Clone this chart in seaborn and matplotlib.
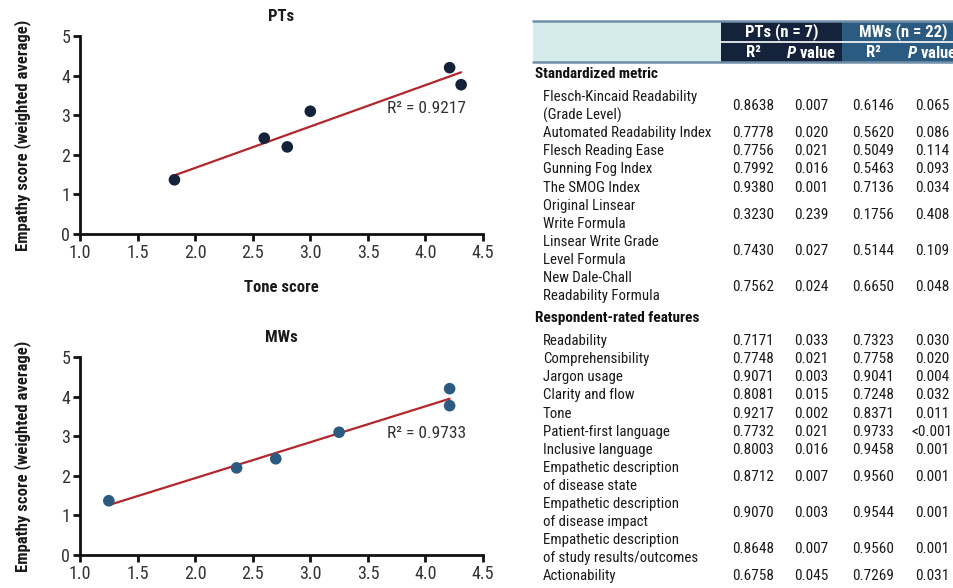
import numpy as np
import pandas as pd
import seaborn as sns
import matplotlib.pyplot as plt
from matplotlib.patches import Rectangle

# ---- scatter data: tone score vs empathy score ----
pt_tone = [1.82, 2.60, 2.80, 3.00, 4.21, 4.31]
pt_empathy = [1.37, 2.42, 2.20, 3.10, 4.20, 3.77]
pt_r2 = "0.9217"

mw_tone = [1.25, 2.36, 2.70, 3.25, 4.21, 4.21]
mw_empathy = [1.37, 2.20, 2.43, 3.10, 4.20, 3.77]
mw_r2 = "0.9733"

x_ticks = [1.0, 1.5, 2.0, 2.5, 3.0, 3.5, 4.0, 4.5]
y_ticks = [0, 1, 2, 3, 4, 5]

# ---- table data ----
sections = ["Standardized metric", "Respondent-rated features"]
std_labels = ["Flesch-Kincaid Readability\n(Grade Level)", "Automated Readability Index",
              "Flesch Reading Ease", "Gunning Fog Index", "The SMOG Index",
              "Original Linsear\nWrite Formula", "Linsear Write Grade\nLevel Formula",
              "New Dale-Chall\nReadability Formula"]
std_r2_pt = ["0.8638", "0.7778", "0.7756", "0.7992", "0.9380", "0.3230", "0.7430", "0.7562"]
std_p_pt = ["0.007", "0.020", "0.021", "0.016", "0.001", "0.239", "0.027", "0.024"]
std_r2_mw = ["0.6146", "0.5620", "0.5049", "0.5463", "0.7136", "0.1756", "0.5144", "0.6650"]
std_p_mw = ["0.065", "0.086", "0.114", "0.093", "0.034", "0.408", "0.109", "0.048"]

resp_labels = ["Readability", "Comprehensibility", "Jargon usage", "Clarity and flow", "Tone",
               "Patient-first language", "Inclusive language",
               "Empathetic description\nof disease state",
               "Empathetic description\nof disease impact",
               "Empathetic description\nof study results/outcomes", "Actionability"]
resp_r2_pt = ["0.7171", "0.7748", "0.9071", "0.8081", "0.9217", "0.7732", "0.8003",
              "0.8712", "0.9070", "0.8648", "0.6758"]
resp_p_pt = ["0.033", "0.021", "0.003", "0.015", "0.002", "0.021", "0.016",
             "0.007", "0.003", "0.007", "0.045"]
resp_r2_mw = ["0.7323", "0.7758", "0.9041", "0.7248", "0.8371", "0.9733", "0.9458",
              "0.9560", "0.9544", "0.9560", "0.7269"]
resp_p_mw = ["0.030", "0.020", "0.004", "0.032", "0.011", "<0.001", "0.001",
             "0.001", "0.001", "0.001", "0.031"]

group_headers = ["PTs (n = 7)", "MWs (n = 22)"]
sub_headers = ["R²", "$\\mathit{P}$ value", "R²", "$\\mathit{P}$ value"]

sns.set_style("ticks")
FONT = ["Roboto Condensed", "DejaVu Sans"]
plt.rcParams["font.family"] = FONT
plt.rcParams["mathtext.fontset"] = "custom"
plt.rcParams["mathtext.rm"] = "Roboto Condensed"
plt.rcParams["mathtext.it"] = "Roboto Condensed:italic:bold"

NAVY = "#14233b"
BLUE = "#2b5b80"
RED = "#b3262c"
TEXT = "#1a1a1a"

fig = plt.figure(figsize=(9.54, 5.88), dpi=100)

# full-figure canvas in pixel units for the table
canvas = fig.add_axes([0, 0, 1, 1], zorder=0)
canvas.set_xlim(0, 954)
canvas.set_ylim(588, 0)
canvas.axis("off")


def scatter_panel(rect, tone, emp, r2, color, title, xlabel, r2_pos):
    ax = fig.add_axes(rect, zorder=2)
    df = pd.DataFrame({"tone": tone, "emp": emp})
    sns.regplot(data=df, x="tone", y="emp", ax=ax, ci=None,
                scatter_kws=dict(s=70, color=color, edgecolor="none", alpha=1, zorder=3),
                line_kws=dict(color=RED, lw=1.6, zorder=2))
    ax.set_xlim(1.0, 4.5)
    ax.set_ylim(0, 5)
    ax.set_xticks(x_ticks)
    ax.set_xticklabels([f"{v:.1f}" for v in x_ticks])
    ax.set_yticks(y_ticks)
    sns.despine(ax=ax)
    for s in ("left", "bottom"):
        ax.spines[s].set_linewidth(2.0)
        ax.spines[s].set_color("#111111")
    ax.tick_params(axis="both", direction="out", length=5, width=2, color="#111111",
                   labelsize=13, labelcolor="#333333", pad=2)
    ax.set_title(title, fontsize=12, fontweight="bold", color=TEXT, pad=11)
    ax.set_xlabel(xlabel, fontsize=12, fontweight="bold", color=TEXT, labelpad=13)
    ax.set_ylabel("Empathy score (weighted average)", fontsize=12, fontweight="bold",
                  color=TEXT, labelpad=22)
    ax.text(r2_pos[0], r2_pos[1], f"R² = {r2}", fontsize=12.5, color="#333333",
            va="center", ha="left")
    return ax


scatter_panel([0.0839, 0.602, 0.4224, 0.3368], pt_tone, pt_empathy, pt_r2, NAVY,
              "PTs", "Tone score", (3.67, 3.18))
scatter_panel([0.0839, 0.0561, 0.4224, 0.3368], mw_tone, mw_empathy, mw_r2, BLUE,
              "MWs", "", (3.67, 3.06))

# ---- table header ----
canvas.add_patch(Rectangle((533, 21), 188, 41, color="#d6ecec", lw=0))
canvas.add_patch(Rectangle((721, 21), 121, 41, color=NAVY, lw=0))
canvas.add_patch(Rectangle((842, 21), 112, 41, color=BLUE, lw=0))
canvas.plot([721, 954], [42, 42], color="white", lw=1.2)
canvas.plot([533, 954], [21, 21], color="#6f8ea8", lw=1.8)
canvas.plot([533, 954], [62, 62], color="#6f8ea8", lw=1.8)

col_x = [753, 811, 873, 932]
group_x = [782, 903]
for gx, g in zip(group_x, group_headers):
    canvas.text(gx, 31.5, g, ha="center", va="center", fontsize=12, fontweight="bold",
                color="white")
for cx, h in zip(col_x, sub_headers):
    canvas.text(cx, 52.5, h, ha="center", va="center", fontsize=12, fontweight="bold",
                color="white")

LINE = 18.1
TSIZE = 10.7


def draw_section(y_head, name, labels, c1, c2, c3, c4):
    canvas.text(535, y_head, name, ha="left", va="center", fontsize=TSIZE + 0.3,
                fontweight="bold", color="#111111")
    y = y_head + 23
    for lab, a, b, c, d in zip(labels, c1, c2, c3, c4):
        lines = lab.split("\n")
        for i, ln in enumerate(lines):
            canvas.text(543, y + i * LINE, ln, ha="left", va="center", fontsize=TSIZE,
                        color=TEXT)
        yc = y + (len(lines) - 1) * LINE / 2
        for cx, val in zip(col_x, (a, b, c, d)):
            canvas.text(cx, yc, val, ha="center", va="center", fontsize=TSIZE + 0.3,
                        color=TEXT)
        y += len(lines) * LINE
    return y - LINE


last = draw_section(74, sections[0], std_labels, std_r2_pt, std_p_pt, std_r2_mw, std_p_mw)
draw_section(last + 22, sections[1], resp_labels, resp_r2_pt, resp_p_pt, resp_r2_mw, resp_p_mw)

fig.savefig("out.png", dpi=100)
